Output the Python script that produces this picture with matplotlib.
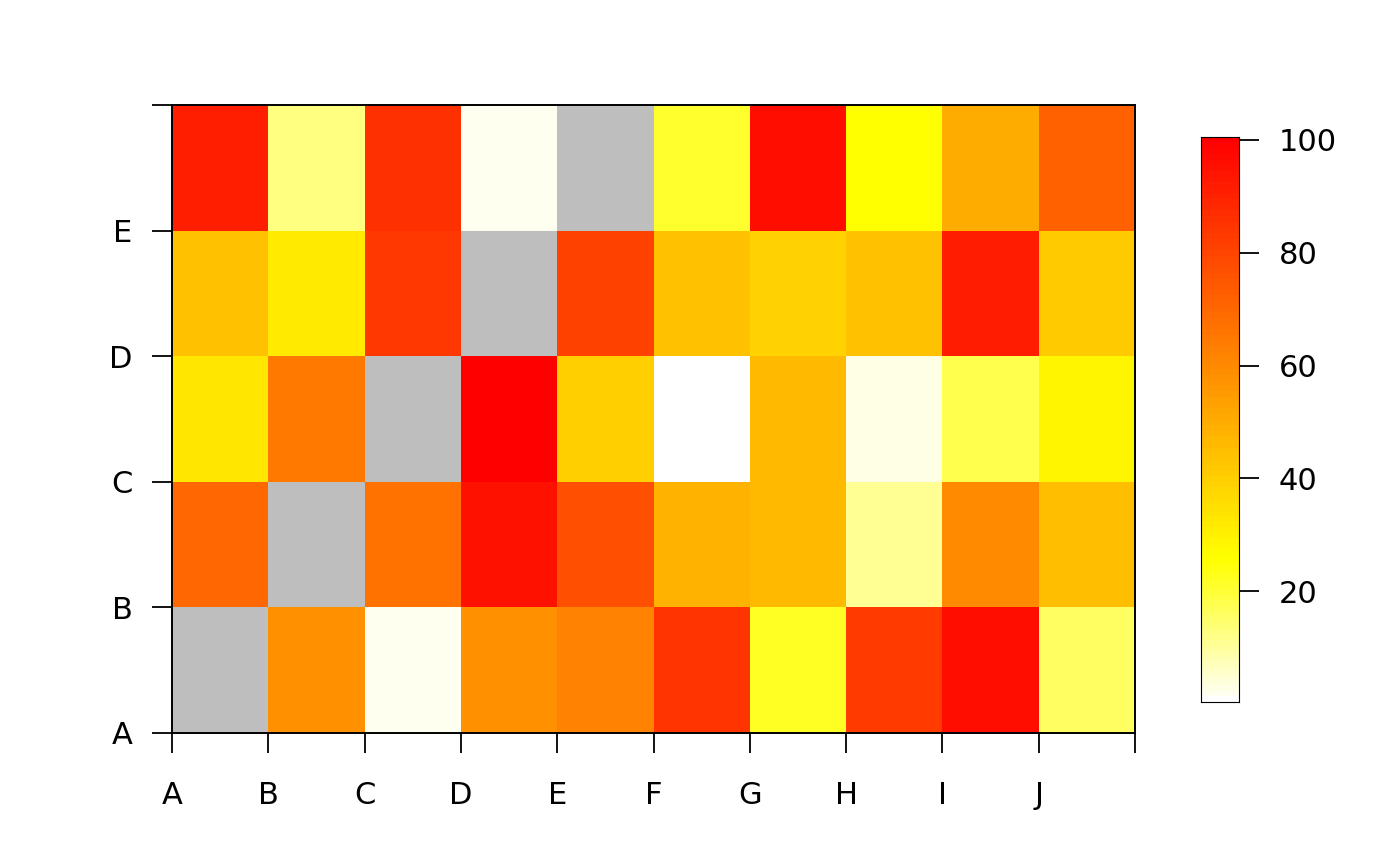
import colorsys
import numpy as np
import matplotlib
matplotlib.use("Agg")
from matplotlib import pyplot as plt
from matplotlib.colors import ListedColormap

# cell values, bottom row first (NaN = missing -> grey)
row_a = [np.nan, 58, 2, 58, 62, 85, 22, 83, 96, 16]
row_b = [70, np.nan, 67, 95, 77, 48, 46, 11, 60, 45]
row_c = [33, 65, np.nan, 100, 40, 0.5, 46, 3, 18, 29]
row_d = [44, 32, 84, np.nan, 81, 44, 39, 44, 92, 41]
row_e = [91, 13, 86, 2, np.nan, 21, 96, 26, 50, 72]

x_labels = ["A", "B", "C", "D", "E", "F", "G", "H", "I", "J"]
y_labels = ["A", "B", "C", "D", "E"]
cbar_ticks = [20, 40, 60, 80, 100]
vmin, vmax = 0.4, 100.5

mat = np.ma.masked_invalid(np.array([row_a, row_b, row_c, row_d, row_e], dtype=float))

# R-style heat.colors(100), reversed (pale -> yellow -> red)
def heat_colors(n):
    j = n // 4
    i = n - j
    cols = [colorsys.hsv_to_rgb(h, 1, 1) for h in np.linspace(0, 1/6, i)]
    cols += [colorsys.hsv_to_rgb(1/6, s, 1) for s in np.linspace(1 - 1/(2*j), 1/(2*j), j)]
    return cols

cols = heat_colors(100)[::-1]
cols[0] = (1, 1, 1)
cmap = ListedColormap(cols)
cmap.set_bad("#BEBEBE")

fig = plt.figure(figsize=(14, 8.66), dpi=100)
ax = fig.add_axes([172/1400, 1 - 733/866, (1135-172)/1400, (733-105)/866])

ax.pcolormesh(np.arange(11), np.arange(6), mat, cmap=cmap, vmin=vmin, vmax=vmax)
ax.set_xlim(0, 10)
ax.set_ylim(0, 5)

ax.set_xticks(np.arange(11))
ax.set_xticklabels(x_labels + [""])
ax.set_yticks(np.arange(6))
ax.set_yticklabels(y_labels + [""])
ax.tick_params(axis="both", length=14.4, width=1.3, labelsize=22)
ax.tick_params(axis="x", pad=20)
ax.tick_params(axis="y", pad=14)
for s in ax.spines.values():
    s.set_linewidth(1.4)

# colour key
cax = fig.add_axes([1201/1400, 1 - 702/866, 38/1400, (702-137)/866])
levels = np.linspace(vmin, vmax, 101)
cax.pcolormesh([0, 1], levels, ((levels[:-1] + levels[1:]) / 2)[:, None],
               cmap=cmap, vmin=vmin, vmax=vmax)
cax.set_xlim(0, 1)
cax.set_ylim(vmin, vmax)
cax.set_xticks([])
cax.yaxis.tick_right()
cax.set_yticks(cbar_ticks)
cax.tick_params(axis="y", length=14.4, width=1.3, labelsize=22, pad=14)
for s in cax.spines.values():
    s.set_linewidth(0.8)

fig.savefig("out.png", dpi=100)
